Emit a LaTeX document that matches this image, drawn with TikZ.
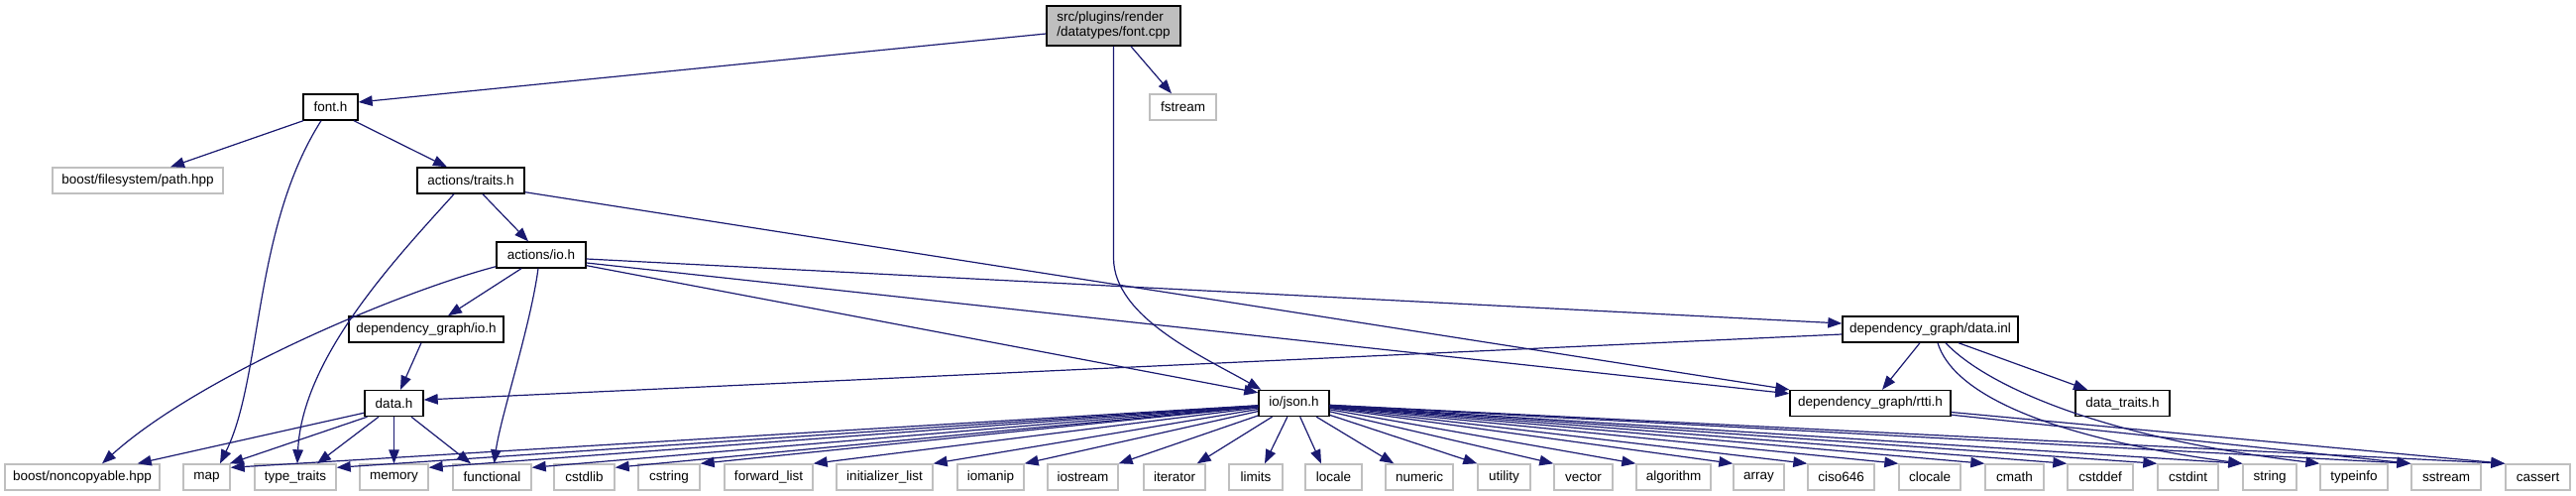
\documentclass[tikz,border=0pt]{standalone}
\usepackage{fontspec}
\setmainfont{Liberation Sans}
\usetikzlibrary{arrows.meta}
\definecolor{edgeblue}{HTML}{191970}
\definecolor{boxgrey}{HTML}{BFBFBF}
\begin{document}
\begin{tikzpicture}[x=1pt,y=-1pt,
  font=\fontsize{13.5}{15}\selectfont,
  mainbox/.style={draw=black, line width=1.4pt, fill=white, inner sep=0pt, minimum height=26pt},
  extbox/.style={draw=boxgrey, line width=1.4pt, fill=white, inner sep=0pt, minimum height=26pt},
  dep/.style={draw=edgeblue, line width=1.2pt, -{Triangle[length=14pt,width=10.5pt]}}
]
\useasboundingbox (0,0) rectangle (2599,500);

% ---- upper nodes
\node[mainbox, fill=boxgrey, minimum width=135pt, minimum height=40pt, align=left] (fontcpp) at (1123.5,26) {src/plugins/render\\/datatypes/font.cpp};
\node[extbox, minimum width=67pt] (fstream) at (1193.5,108) {fstream};
\node[mainbox, minimum width=55pt] (fonth) at (333.5,108) {font.h};
\node[extbox, minimum width=172pt] (pathhpp) at (139,182) {boost/filesystem/path.hpp};
\node[mainbox, minimum width=108pt] (traits) at (475,182) {actions/traits.h};
\node[mainbox, minimum width=90pt] (actio) at (546,257) {actions/io.h};
\node[mainbox, minimum width=156pt] (dgio) at (430,332) {dependency\_graph/io.h};
\node[mainbox, minimum width=177pt] (datainl) at (1947.5,332) {dependency\_graph/data.inl};
\node[mainbox, minimum width=59pt] (datah) at (397.5,406.5) {data.h};
\node[mainbox, minimum width=71pt] (json) at (1305.5,406.5) {io/json.h};
\node[mainbox, minimum width=162pt] (rtti) at (1887,406.5) {dependency\_graph/rtti.h};
\node[mainbox, minimum width=95pt] (datatraits) at (2141.5,406.5) {data\_traits.h};

% ---- bottom row
\node[extbox, minimum width=156pt] (noncopyable) at (83,481) {boost/noncopyable.hpp};
\node[extbox, minimum width=47pt] (map) at (208.5,481) {map};
\node[extbox, minimum width=82pt] (typetraits) at (298,481) {type\_traits};
\node[extbox, minimum width=69pt] (memory) at (397.5,481) {memory};
\node[extbox, minimum width=79pt] (functional) at (496.5,481) {functional};
\node[extbox, minimum width=61pt] (cstdlib) at (589.5,481) {cstdlib};
\node[extbox, minimum width=62pt] (cstring) at (675,481) {cstring};
\node[extbox, minimum width=89pt] (forwardlist) at (775.5,481) {forward\_list};
\node[extbox, minimum width=97pt] (initlist) at (892.5,481) {initializer\_list};
\node[extbox, minimum width=67pt] (iomanip) at (999.5,481) {iomanip};
\node[extbox, minimum width=71pt] (iostream) at (1092.5,481) {iostream};
\node[extbox, minimum width=62pt] (iterator) at (1185,481) {iterator};
\node[extbox, minimum width=54pt] (limits) at (1267,481) {limits};
\node[extbox, minimum width=57pt] (locale) at (1345.5,481) {locale};
\node[extbox, minimum width=68pt] (numeric) at (1432,481) {numeric};
\node[extbox, minimum width=53pt] (utility) at (1517.5,481) {utility};
\node[extbox, minimum width=59pt] (vector) at (1597.5,481) {vector};
\node[extbox, minimum width=75pt] (algorithm) at (1688.5,481) {algorithm};
\node[extbox, minimum width=51pt] (array) at (1774.5,481) {array};
\node[extbox, minimum width=67pt] (ciso) at (1857.5,481) {ciso646};
\node[extbox, minimum width=62pt] (clocale) at (1947,481) {clocale};
\node[extbox, minimum width=59pt] (cmath) at (2032.5,481) {cmath};
\node[extbox, minimum width=66pt] (cstddef) at (2119,481) {cstddef};
\node[extbox, minimum width=61pt] (cstdint) at (2207.5,481) {cstdint};
\node[extbox, minimum width=54pt] (string) at (2290,481) {string};
\node[extbox, minimum width=68pt] (typeinfo) at (2375,481) {typeinfo};
\node[extbox, minimum width=70pt] (sstream) at (2468,481) {sstream};
\node[extbox, minimum width=65pt] (cassert) at (2560.5,481) {cassert};

% ---- edges from font.cpp
\draw[dep] ([yshift=-8pt]fontcpp.west) -- ([yshift=5pt]fonth.east);
\draw[dep] ([xshift=17.5pt]fontcpp.south) -- ([xshift=-11.5pt]fstream.north);
\draw[dep] (fontcpp.south) -- (1123.5,260) .. controls (1123.5,320) and (1215,360) .. ([xshift=3pt]json.north west);

% ---- font.h
\draw[dep] ([xshift=-27.5pt]fonth.south) -- ([xshift=33pt]pathhpp.north);
\draw[dep] ([xshift=23.5pt]fonth.south) -- ([xshift=-24pt]traits.north);
\draw[dep] ([xshift=-9.5pt]fonth.south) .. controls (255,230) and (265,380) .. ([xshift=13.5pt]map.north);

% ---- actions/traits.h
\draw[dep] ([xshift=12pt]traits.south) -- ([xshift=-13pt]actio.north);
\draw[dep] ([xshift=-17pt]traits.south) .. controls (400,260) and (305,360) .. ([xshift=2pt]typetraits.north);
\draw[dep] ([yshift=2pt]traits.south east) -- (rtti.north west);

% ---- actions/io.h
\draw[dep] ([xshift=-20pt]actio.south) -- ([xshift=22pt]dgio.north);
\draw[dep] ([xshift=-3pt]actio.south) .. controls (535,330) and (505,420) .. ([xshift=2pt]functional.north);
\draw[dep] ([yshift=2pt]actio.south west) .. controls (400,295) and (200,380) .. ([xshift=20pt]noncopyable.north);
\draw[dep] ([yshift=-4pt]actio.east) -- ([yshift=6pt]datainl.west);
\draw[dep] ([yshift=-8pt]actio.east) -- ([yshift=-4pt]rtti.north west);
\draw[dep] ([yshift=3pt]actio.south east) -- ([yshift=-3pt]json.north west);

% ---- dependency_graph/io.h
\draw[dep] ([xshift=-5pt]dgio.south) -- ([xshift=6.5pt]datah.north);

% ---- dependency_graph/data.inl
\draw[dep] ([yshift=-5pt]datainl.west) -- ([yshift=3.5pt]datah.east);
\draw[dep] ([xshift=-10.5pt]datainl.south) -- ([xshift=12pt]rtti.north);
\draw[dep] ([xshift=28.5pt]datainl.south) -- ([xshift=-35.5pt]datatraits.north);
\draw[dep] ([xshift=7.5pt]datainl.south) .. controls (1970,395) and (2060,440) .. (string.north west);
\draw[dep] ([xshift=15.5pt]datainl.south) .. controls (2000,385) and (2110,440) .. (typeinfo.north west);

% ---- dependency_graph/rtti.h
\draw[dep] ([yshift=2pt]rtti.south east) -- (sstream.north west);
\draw[dep] ([yshift=-9pt]rtti.east) -- (cassert.north west);

% ---- data.h
\draw[dep] ([yshift=4pt]datah.south west) -- ([xshift=-23pt]noncopyable.north east);
\draw[dep] ([xshift=-27pt]datah.south) -- ([xshift=-1pt]map.north east);
\draw[dep] ([xshift=-15.5pt]datah.south) -- ([xshift=22pt]typetraits.north);
\draw[dep] (datah.south) -- (memory.north);
\draw[dep] ([xshift=17.5pt]datah.south) -- ([xshift=-21.5pt]functional.north);

% ---- io/json.h
\foreach \t in {map,typetraits,memory,functional,cstdlib}
  \draw[dep] (json) -- ([yshift=-4pt]\t.north east);
\foreach \t in {cstring,forwardlist,initlist,iomanip,iostream}
  \draw[dep] (json) -- (\t.north east);
\draw[dep] (json) -- ([xshift=-9pt]iterator.north east);
\draw[dep] (json) -- ([xshift=9pt]limits.north);
\draw[dep] (json) -- ([xshift=-12.5pt]locale.north);
\draw[dep] (json) -- ([xshift=9pt]numeric.north west);
\foreach \t in {utility,vector,algorithm,array,ciso,clocale,cmath,cstddef,cstdint,string,sstream,cassert}
  \draw[dep] (json) -- (\t.north west);
\end{tikzpicture}
\end{document}
